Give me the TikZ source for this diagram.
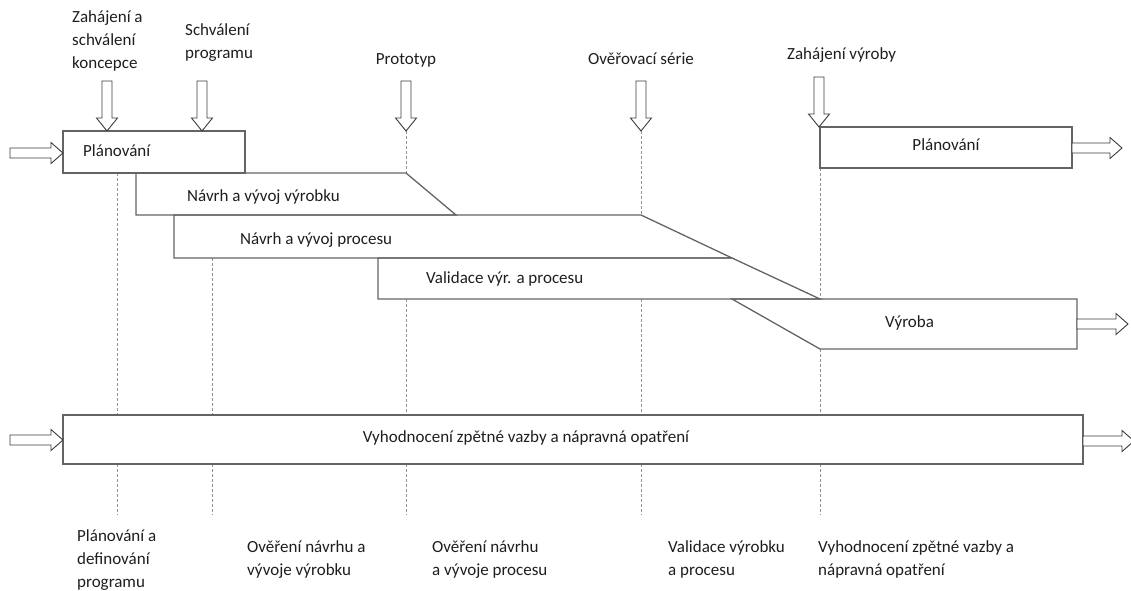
\documentclass[tikz,border=0pt]{standalone}
\usepackage{fontspec}
\setmainfont{Carlito}
\definecolor{boxc}{RGB}{100,100,100}
\definecolor{linec}{RGB}{60,60,60}
\definecolor{textc}{RGB}{30,30,30}
\newcommand\harR[3]{\draw[harrow] (#1,#3-5) -- (#2-12,#3-5) -- (#2-12,#3-10.5) -- (#2,#3) -- (#2-12,#3+10.5) -- (#2-12,#3+5) -- (#1,#3+5) -- cycle;}
\newcommand\harD[3]{\draw[harrow] (#1-5,#2) -- (#1-5,#3-13) -- (#1-10.5,#3-13) -- (#1,#3) -- (#1+10.5,#3-13) -- (#1+5,#3-13) -- (#1+5,#2) -- cycle;}
\begin{document}
\begin{tikzpicture}[x=1pt,y=-1pt,
  font=\fontsize{17}{23}\selectfont,
  box/.style={draw=boxc, line width=1.3pt, line join=miter},
  guide/.style={draw=gray!85, line width=0.8pt, dash pattern=on 3pt off 2pt},
  harrow/.style={draw=linec, fill=white, line width=0.9pt, line join=miter},
  lbl/.style={inner sep=0pt, text=textc}]
\useasboundingbox (0,0) rectangle (1131,590);

% dashed guides
\foreach \x/\a/\b in {117/173/415, 212/258/415, 406/131/173, 406/299/415,
                      641/131/215, 641/299/415, 820/168/299, 820/349/415,
                      117/464/515, 212/464/515, 406/464/515, 641/464/515, 820/464/515}
  \draw[guide] (\x,\a) -- (\x,\b);

% boxes
\draw[box] (63,131) rectangle (245,173);
\draw[box] (136,173) -- (406,173) -- (456,215) -- (136,215) -- cycle;
\draw[box] (174,215) -- (641,215) -- (732,258) -- (174,258) -- cycle;
\draw[box] (378,258) -- (732,258) -- (820,299) -- (378,299) -- cycle;
\draw[box] (732,299) -- (1077,299) -- (1077,349) -- (820,349) -- cycle;
\draw[box] (820,127) rectangle (1072,168);
\draw[box] (63,415) rectangle (1083,464);

% hollow arrows
\harR{10}{63}{153}
\harR{10}{63}{440}
\harR{1072}{1122}{148}
\harR{1077}{1128}{324}
\harR{1083}{1134}{441}
\harD{107}{81}{131}
\harD{202}{81}{131}
\harD{406}{81}{131}
\harD{641}{81}{131}
\harD{819}{77}{127}

% top labels
\node[lbl, anchor=north west, align=left] (t1) at (72,10) {Zahájení a\\schválení\\koncepce};
\node[lbl, anchor=north west, align=left] (t2) at (185,23) {Schválení\\programu};
\node[lbl, anchor=mid] (t3) at (406,62) {Prototyp};
\node[lbl, anchor=mid] (t4) at (641,62) {Ověřovací série};
\node[lbl, anchor=mid west] (t5) at (787,57) {Zahájení výroby};

% box labels
\node[lbl, anchor=mid west] (p1) at (83,154) {Plánování};
\node[lbl, anchor=mid west] (p2) at (187,199) {Návrh a vývoj výrobku};
\node[lbl, anchor=mid west] (p3) at (240,242) {Návrh a vývoj procesu};
\node[lbl, anchor=mid west] (p4) at (426,281) {Validace výr. a procesu};
\node[lbl, anchor=mid] (p5) at (946,148) {Plánování};
\node[lbl, anchor=mid west] (p6) at (885,325) {Výroba};
\node[lbl, anchor=mid] (p7) at (526,440) {Vyhodnocení zpětné vazby a nápravná opatření};

% bottom labels
\node[lbl, anchor=north west, align=left] (b1) at (77,529) {Plánování a\\definování\\programu};
\node[lbl, anchor=north west, align=left] (b2) at (247,540) {Ověření návrhu a\\vývoje výrobku};
\node[lbl, anchor=north west, align=left] (b3) at (432,540) {Ověření návrhu\\a vývoje procesu};
\node[lbl, anchor=north west, align=left] (b4) at (668,540) {Validace výrobku\\a procesu};
\node[lbl, anchor=north west, align=left] (b5) at (818,540) {Vyhodnocení zpětné vazby a\\nápravná opatření};
\end{tikzpicture}
\end{document}
